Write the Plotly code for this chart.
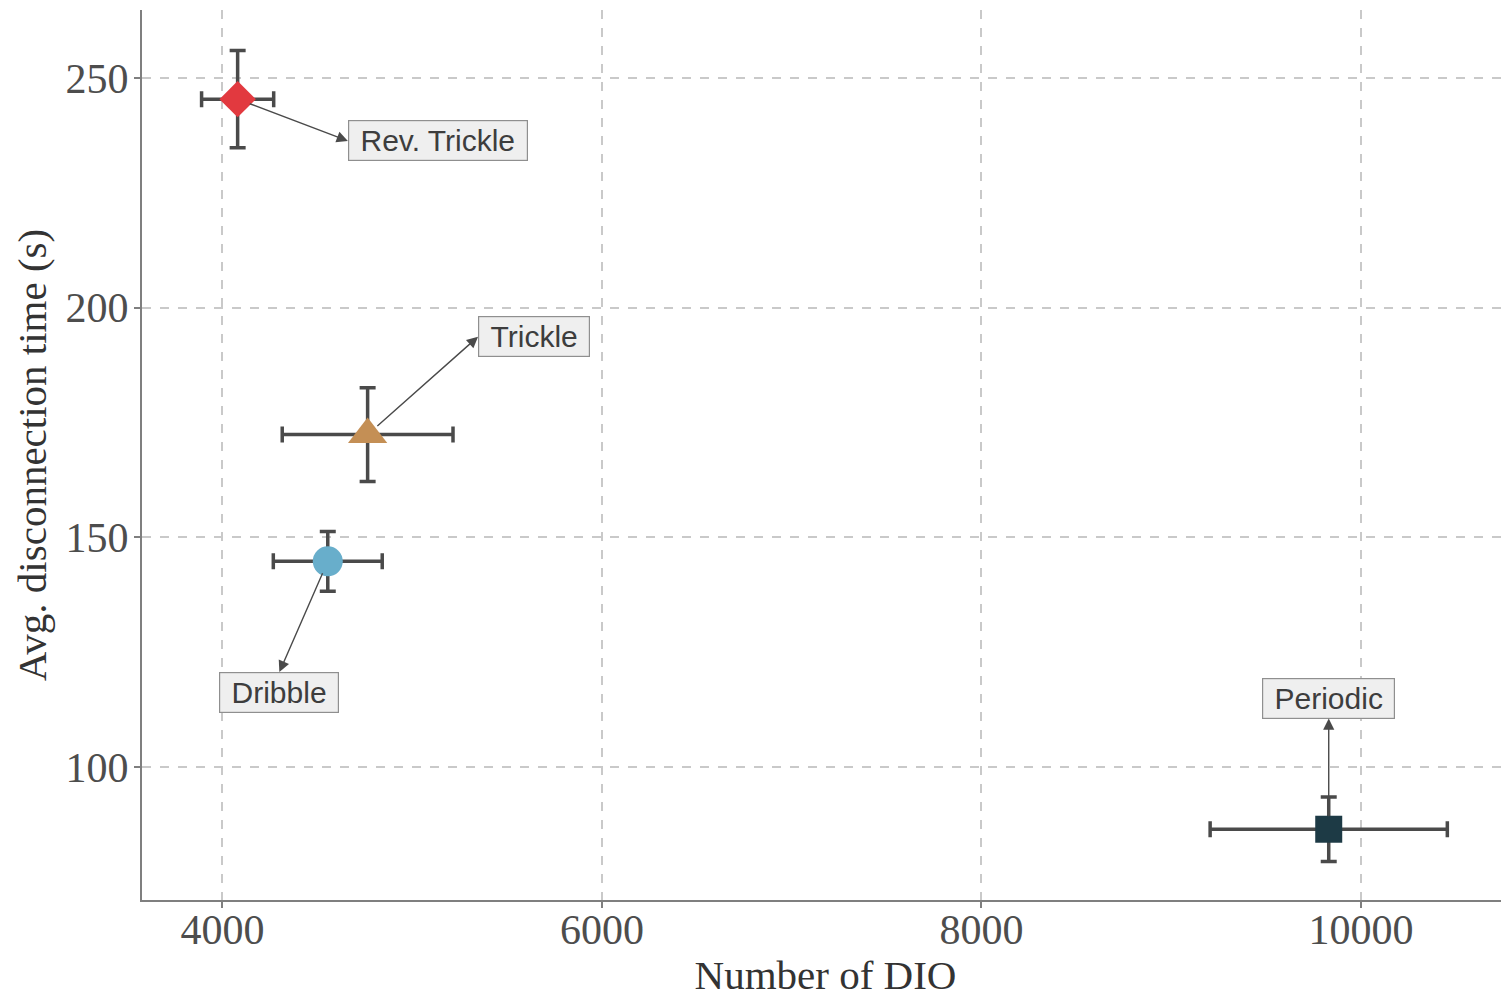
import plotly.graph_objects as go

# ---- data ----
protocols = ["Rev. Trickle", "Trickle", "Dribble", "Periodic"]
dio_mean = [4080, 4765, 4555, 9830]
dio_err = [190, 450, 287, 625]
disc_mean = [245.4, 172.4, 144.8, 86.5]
disc_err = [10.6, 10.2, 6.5, 7.0]
marker_symbols = ["diamond", "triangle-up", "circle", "square"]
marker_colors = ["#e2393f", "#c48f55", "#68aecb", "#1d3a45"]
marker_sizes = [28, 34, 30, 27]

# label anchor positions (data coords) for repelled text boxes
label_x = [4661, 5347, 4300, 9830]
label_y = [236.3, 193.7, 120.7, 110.6]
label_xanchor = ["left", "left", "center", "center"]
label_yanchor = ["middle", "middle", "top", "bottom"]

x_ticks = [4000, 6000, 8000, 10000]
y_ticks = [100, 150, 200, 250]

fig = go.Figure()
for i, name in enumerate(protocols):
    fig.add_trace(go.Scatter(
        x=[dio_mean[i]], y=[disc_mean[i]], mode="markers", name=name,
        marker=dict(symbol=marker_symbols[i], color=marker_colors[i],
                    size=marker_sizes[i], line=dict(width=0)),
        error_x=dict(type="data", array=[dio_err[i]], color="#4a4a4a",
                     thickness=3.5, width=8),
        error_y=dict(type="data", array=[disc_err[i]], color="#4a4a4a",
                     thickness=3.5, width=8),
        showlegend=False,
    ))

for i, name in enumerate(protocols):
    fig.add_annotation(
        x=dio_mean[i], y=disc_mean[i], xref="x", yref="y",
        ax=label_x[i], ay=label_y[i], axref="x", ayref="y",
        text="\u00a0" + name + "\u00a0",
        xanchor=label_xanchor[i], yanchor=label_yanchor[i],
        showarrow=True, arrowside="start", startarrowhead=2,
        startarrowsize=1.6, arrowwidth=1.4, arrowcolor="#4a4a4a",
        standoff=13, startstandoff=0,
        font=dict(family="Liberation Sans", size=30, color="#3d3d3d"),
        bgcolor="#efefef", bordercolor="#8f8f8f", borderwidth=1.2,
        borderpad=3,
    )

axis_common = dict(
    showline=True, linecolor="#7f7f7f", linewidth=2,
    ticks="outside", ticklen=6, tickwidth=1.5, tickcolor="#7f7f7f",
    showgrid=True, gridcolor="#c9c9c9", gridwidth=1.5, griddash="dash",
    zeroline=False, mirror=False, automargin=False,
    tickfont=dict(family="Liberation Serif", size=42, color="#4d4d4d"),
)

fig.update_xaxes(
    range=[3576, 10780], tickvals=x_ticks, ticktext=[str(v) for v in x_ticks],
    ticklabelstandoff=-14,
    title=dict(text="Number of DIO", standoff=0,
               font=dict(family="Liberation Serif", size=41, color="#333333")),
    **axis_common,
)
fig.update_yaxes(
    range=[71.1, 264.8], tickvals=y_ticks, ticktext=[str(v) for v in y_ticks],
    ticklabelstandoff=-3,
    title=dict(text="Avg. disconnection time (s)", standoff=6,
               font=dict(family="Liberation Serif", size=41, color="#333333")),
    **axis_common,
)

fig.update_layout(
    width=1501, height=990,
    margin=dict(l=134, r=0, t=2, b=98),
    paper_bgcolor="white", plot_bgcolor="white",
)

fig.write_html("out.html")
